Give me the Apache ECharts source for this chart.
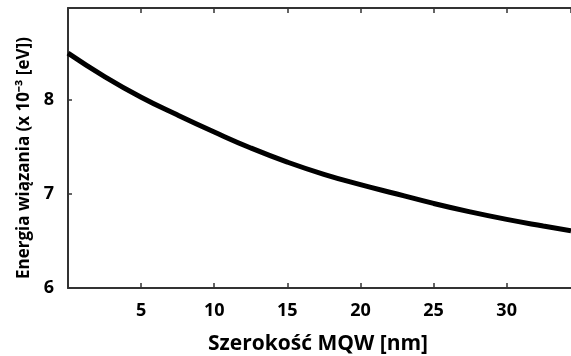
<!DOCTYPE html>
<html><head><meta charset="utf-8">
<script src="https://cdn.jsdelivr.net/npm/echarts@6/dist/echarts.min.js"></script>
<style>html,body{margin:0;padding:0;background:#fff}#c{width:571px;height:356px}</style>
</head><body><div id="c"></div>
<script>
const widths = [0, 2.5, 5, 7.5, 10, 12.5, 15, 17.5, 20, 22.5, 25, 27.5, 30, 32.5, 34.4];
const energies = [8.50, 8.25, 8.03, 7.84, 7.66, 7.49, 7.34, 7.21, 7.10, 7.00, 6.90, 6.81, 6.73, 6.66, 6.61];
const xTicks = [5, 10, 15, 20, 25, 30];
const yTicks = [6, 7, 8];
const xTitle = 'Szerokość MQW [nm]';
const yTitle = 'Energia wiązania (x 10⁻³ [eV])';

const chart = echarts.init(document.getElementById('c'));
const font = 'Open Sans';
const axisLine = {show: true, lineStyle: {color: '#333', width: 2}};
const tick = {show: true, inside: true, length: 5, lineStyle: {color: '#333', width: 1.5}};
chart.setOption({
  animation: false,
  grid: {left: 68, right: 0, top: 8, bottom: 68, containLabel: false},
  xAxis: [{
    type: 'value', min: 0, max: 34.4, interval: 5, position: 'bottom',
    axisLine: axisLine, axisTick: tick,
    axisLabel: {show: true, showMaxLabel: false, margin: 14, color: '#000', fontFamily: font, fontWeight: 'bold', fontSize: 18,
      formatter: v => xTicks.includes(v) ? String(v) : ''},
    splitLine: {show: false}
  }, {
    type: 'value', min: 0, max: 34.4, interval: 5, position: 'top',
    axisLine: axisLine, axisTick: tick,
    axisLabel: {show: false}, splitLine: {show: false}
  }],
  yAxis: [{
    type: 'value', min: 6, max: 8.98, interval: 1,
    axisLine: axisLine,
    axisTick: {show: true, inside: true, length: 4, lineStyle: {color: '#333', width: 1.5}},
    axisLabel: {show: true, showMaxLabel: false, margin: 14, color: '#000', fontFamily: font, fontWeight: 'bold', fontSize: 18,
      formatter: v => yTicks.includes(v) ? String(v) : ''},
    splitLine: {show: false}
  }],
  graphic: [{
    type: 'text', x: 318, y: 344,
    style: {text: xTitle, fill: '#000', font: 'bold 21px "Open Sans"', textAlign: 'center', textVerticalAlign: 'middle'}
  }, {
    type: 'text', x: 24, y: 158, rotation: Math.PI / 2,
    style: {text: yTitle, fill: '#000', font: 'bold 17px "Open Sans"', textAlign: 'center', textVerticalAlign: 'middle'}
  }],
  series: [{
    type: 'line', xAxisIndex: 0, yAxisIndex: 0, smooth: true, showSymbol: false,
    data: widths.map((w, i) => [w, energies[i]]),
    lineStyle: {color: '#000', width: 5}
  }]
});
</script></body></html>
